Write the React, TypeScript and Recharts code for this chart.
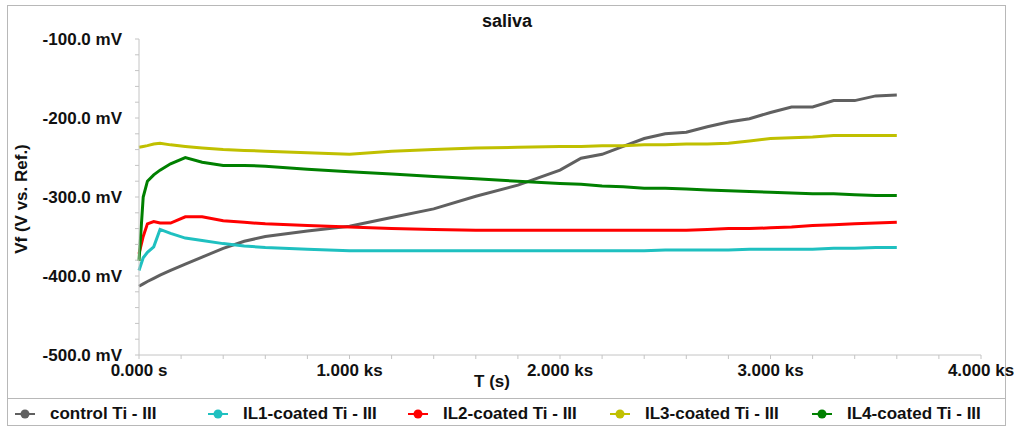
import { LineChart, Line, XAxis, YAxis } from "recharts";

// time in seconds, potentials in mV
const times = [0, 20, 40, 70, 100, 150, 220, 300, 400, 500, 600, 800, 1000, 1200, 1400, 1600, 1800, 2000, 2100, 2200, 2300, 2400, 2500, 2600, 2700, 2800, 2900, 3000, 3100, 3200, 3300, 3400, 3500, 3600];

const control = [-413, -410, -407, -403, -399, -393, -385, -376, -365, -356, -350, -343, -337, -326, -315, -299, -285, -266, -251, -246, -236, -226, -220, -218, -211, -205, -201, -193, -186, -186, -178, -178, -172, -171];
const il1 = [-393, -377, -370, -363, -341, -346, -352, -355, -359, -362, -364, -366, -368, -368, -368, -368, -368, -368, -368, -368, -368, -368, -367, -367, -367, -367, -366, -366, -366, -366, -365, -365, -364, -364];
const il2 = [-372, -350, -334, -331, -333, -333, -325, -325, -330, -332, -334, -336, -338, -340, -341, -342, -342, -342, -342, -342, -342, -342, -342, -342, -341, -340, -340, -339, -338, -336, -335, -334, -333, -332];
const il3 = [-237, -236, -235, -233, -232, -234, -236, -238, -240, -241, -242, -244, -246, -242, -240, -238, -237, -236, -236, -235, -235, -234, -234, -233, -233, -232, -229, -226, -225, -224, -222, -222, -222, -222];
const il4 = [-381, -300, -280, -272, -266, -258, -250, -256, -260, -260, -261, -265, -268, -271, -274, -277, -280, -283, -284, -286, -287, -289, -289, -290, -291, -292, -293, -294, -295, -296, -296, -297, -298, -298];

const seriesNames = ["control Ti - III", "IL1-coated Ti - III", "IL2-coated Ti - III", "IL3-coated Ti - III", "IL4-coated Ti - III"];
const seriesKeys = ["control", "il1", "il2", "il3", "il4"];
const seriesColors = ["#606060", "#1fc0c0", "#ff0000", "#c0c000", "#008000"];

const xTicks = [0, 200, 400, 600, 800, 1000, 1200, 1400, 1600, 1800, 2000, 2200, 2400, 2600, 2800, 3000, 3200, 3400, 3600, 3800, 4000];
const yTicks = [-500, -480, -460, -440, -420, -400, -380, -360, -340, -320, -300, -280, -260, -240, -220, -200, -180, -160, -140, -120, -100];

const legendX = [15, 208, 408, 610, 812];

const data = times.map((t, i) => ({
  t,
  control: control[i],
  il1: il1[i],
  il2: il2[i],
  il3: il3[i],
  il4: il4[i],
}));

const FONT = "'Liberation Sans', Arial, sans-serif";
const AXIS = "#c4c4c4";

function fmtX(v: number) {
  return v === 0 ? "0.000 s" : `${(v / 1000).toFixed(3)} ks`;
}

function XTick({ x, y, payload }: any) {
  if (payload.value % 1000 !== 0) return null;
  return (
    <text x={x} y={y + 15} textAnchor="middle" fontSize={17} fontWeight="bold" fill="#111" fontFamily={FONT}>
      {fmtX(payload.value)}
    </text>
  );
}

function YTick({ x, y, payload }: any) {
  if (payload.value % 100 !== 0) return null;
  return (
    <text x={x - 11} y={y + 6} textAnchor="end" fontSize={17} fontWeight="bold" fill="#111" fontFamily={FONT}>
      {`${payload.value.toFixed(1)} mV`}
    </text>
  );
}

export default function App() {
  return (
    <div style={{ position: "absolute", left: 0, top: 0, width: 1014, height: 428, background: "#fff", fontFamily: FONT }}>
      <div style={{ position: "absolute", left: 7, top: 5, width: 997, height: 419, border: "1px solid #b8b8b8" }} />
      <div style={{ position: "absolute", left: 7, top: 398, width: 998, height: 1, background: "#b8b8b8" }} />

      <div style={{ position: "absolute", left: 0, top: 0 }}>
        <LineChart width={1014} height={428} data={data} margin={{ top: 39, right: 33, bottom: 43, left: 39 }}>
          <XAxis
            dataKey="t"
            type="number"
            domain={[0, 4000]}
            ticks={xTicks}
            interval={0}
            tick={<XTick />}
            tickSize={4}
            stroke={AXIS}
            height={30}
          />
          <YAxis
            type="number"
            domain={[-500, -100]}
            ticks={yTicks}
            interval={0}
            tick={<YTick />}
            tickSize={4}
            stroke={AXIS}
            width={100}
          />
          {seriesKeys.map((k, i) => (
            <Line key={k} type="linear" dataKey={k} name={seriesNames[i]} stroke={seriesColors[i]} strokeWidth={3} dot={false} isAnimationActive={false} />
          ))}
        </LineChart>
      </div>

      <div style={{ position: "absolute", left: 0, width: 1014, top: 11, textAlign: "center", fontSize: 18, fontWeight: "bold", color: "#111" }}>
        saliva
      </div>
      <div style={{ position: "absolute", left: 462, top: 372, width: 60, textAlign: "center", fontSize: 17, fontWeight: "bold", color: "#111" }}>
        T (s)
      </div>
      <div style={{ position: "absolute", left: 22, top: 200, width: 0, height: 0 }}>
        <div style={{ position: "absolute", left: -100, top: -11, width: 200, textAlign: "center", transform: "rotate(-90deg)", fontSize: 17, fontWeight: "bold", color: "#111", whiteSpace: "nowrap" }}>
          Vf (V vs. Ref.)
        </div>
      </div>

      {seriesNames.map((n, i) => (
        <div key={n} style={{ position: "absolute", left: legendX[i], top: 403, height: 22, display: "flex", alignItems: "center", whiteSpace: "nowrap" }}>
          <svg width={22} height={12} style={{ marginRight: 13 }}>
            <line x1={0} y1={6} x2={20} y2={6} stroke={seriesColors[i]} strokeWidth={2} />
            <circle cx={10} cy={6} r={4.5} fill={seriesColors[i]} />
          </svg>
          <span style={{ fontSize: 17, fontWeight: "bold", color: "#111" }}>{n}</span>
        </div>
      ))}
    </div>
  );
}
